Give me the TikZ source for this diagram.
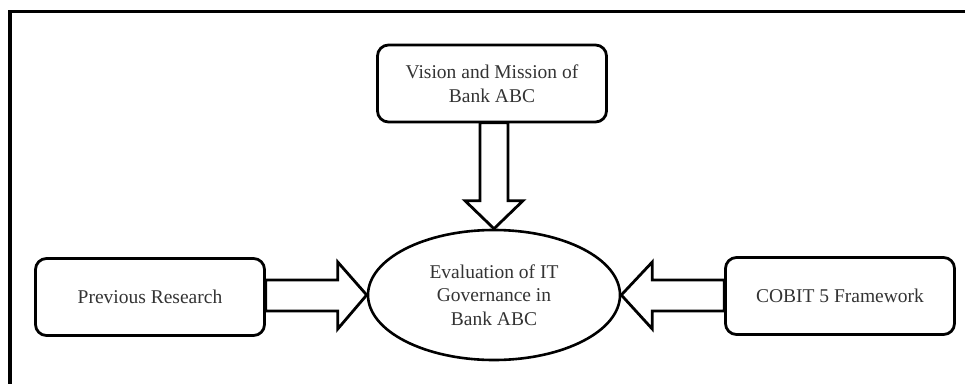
\documentclass[tikz,border=0pt]{standalone}
\usepackage{fontspec}
\setmainfont{Liberation Serif}
\usetikzlibrary{calc,shapes.geometric}

\begin{document}
\begin{tikzpicture}[x=1pt,y=-1pt,
		line join=miter,
		inputbox/.style = {draw,line width=2.8pt,rounded corners=11pt,minimum width=229pt,minimum height=77pt,align=center,text=black!80,font=\fontsize{19.5}{23.5}\selectfont},
		goalnode/.style = {ellipse,draw,line width=2.6pt,minimum width=252pt,minimum height=130pt,align=center,inner sep=0pt,text=black!80,font=\fontsize{19.5}{23.5}\selectfont},
		blockarrow/.style = {draw,line width=2.8pt,fill=white}]
		\useasboundingbox (0,0) rectangle (965,383);
		\clip (0,0) rectangle (965,383);
		% frame
		\draw [line width=3.5pt] (10,420) |- (990,11.5);
		% boxes
		\node [inputbox] (vision) at (492,83.5) {Vision and Mission of\\Bank ABC};
		\node [goalnode] (eval) at (494,295) {Evaluation of IT\\Governance in\\Bank ABC};
		\node [inputbox] (previous) at (150,297) {Previous Research};
		\node [inputbox] (cobit) at (840,296) {COBIT 5 Framework};
		% arrows
		\draw [blockarrow] (eval.north) -- ++(-29,-28) -- ++(15,0) -- ++(0,-78) -- ++(28,0) -- ++(0,78) -- ++(15,0) -- cycle;
		\draw [blockarrow] (eval.west) -- ++(-29,-33) -- ++(0,18) -- ++(-72,0) -- ++(0,31) -- ++(72,0) -- ++(0,18) -- cycle;
		\draw [blockarrow] (eval.east) -- ++(31,-33) -- ++(0,18) -- ++(72,0) -- ++(0,31) -- ++(-72,0) -- ++(0,18) -- cycle;
\end{tikzpicture}
\end{document}
